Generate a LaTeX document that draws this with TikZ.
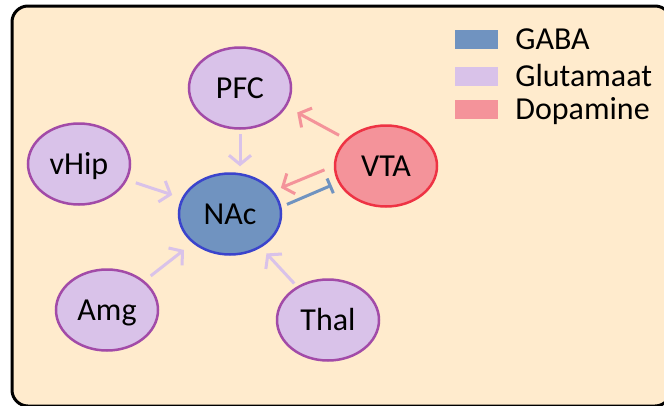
\documentclass[tikz,border=0pt]{standalone}
\usepackage{fontspec}
\setmainfont{Carlito}
\definecolor{bgcream}{HTML}{FFEBCD}
\definecolor{gabablue}{HTML}{7093C0}
\definecolor{gabaline}{HTML}{3B44CC}
\definecolor{glutlilac}{HTML}{D9C2E9}
\definecolor{glutline}{HTML}{A24BA8}
\definecolor{dopapink}{HTML}{F4939A}
\definecolor{dopaline}{HTML}{EE3344}
\usetikzlibrary{positioning,arrows.meta,shapes.geometric}

\begin{document}
\begin{tikzpicture}[x=1pt, y=-1pt,
      area/.style={ellipse, minimum width=102pt, minimum height=81pt, inner sep=0pt,
                   line width=2.5pt, text height=20pt, text depth=0pt,
                   font=\fontsize{32}{38}\selectfont},
      glut/.style={area, draw=glutline, fill=glutlilac},
      gaba/.style={area, draw=gabaline, fill=gabablue},
      dopa/.style={area, draw=dopaline, fill=dopapink},
      swatch/.style={rectangle, minimum width=43pt, minimum height=19pt, inner sep=0pt},
      key/.style={inner sep=0pt, text height=20pt, text depth=0pt,
                  font=\fontsize{32}{38}\selectfont},
      proj/.style={line width=3pt, -{Straight Barb[length=9pt, width=22pt]}},
    ]
    \useasboundingbox (0,0) rectangle (664,405);
    \clip (0,0) rectangle (664,405);
    \draw[line width=3pt, fill=bgcream, rounded corners=16pt] (12,6) rectangle (671,406);

    % areas
    \node[glut] (pfc) at (240,88) {PFC};
    \node[glut] (vhip) at (79,164) {vHip};
    \node[gaba] (nac) at (230,214) {NAc};
    \node[dopa] (vta) at (386,166) {VTA};
    \node[glut] (amg) at (107,310) {Amg};
    \node[glut] (thal) at (328,320) {Thal};

    % legend
    \node[swatch, fill=gabablue] (kgaba) at (476.5,39.5) {};
    \node[swatch, fill=glutlilac] (kglut) at (476.5,76.5) {};
    \node[swatch, fill=dopapink] (kdopa) at (476.5,109.5) {};
    \node[key, right=17pt of kgaba] {GABA};
    \node[key, right=17pt of kglut] {Glutamaat};
    \node[key, right=17pt of kdopa] {Dopamine};

    % projections
    \draw[proj, glutlilac, shorten <=4.5pt, shorten >=6pt] (pfc.south) -- (pfc.south |- nac.north);
    \draw[proj, glutlilac, shorten <=9pt, shorten >=10pt] (vhip) -- (nac);
    \draw[proj, glutlilac, shorten <=8pt, shorten >=11pt] (amg) -- (nac);
    \draw[proj, glutlilac, shorten <=4pt, shorten >=8pt] (thal) -- (nac);
    \draw[proj, dopapink, shorten <=8pt, shorten >=12pt] (vta.146) -- (pfc.-22);
    \draw[proj, dopapink, shorten <=10pt, shorten >=8pt] (vta.180) -- (nac.28);
    \draw[line width=3pt, gabablue, -{Bar[width=16pt]}, shorten <=6pt, shorten >=7pt] (nac.8) -- (vta.199);
  \end{tikzpicture}
\end{document}
